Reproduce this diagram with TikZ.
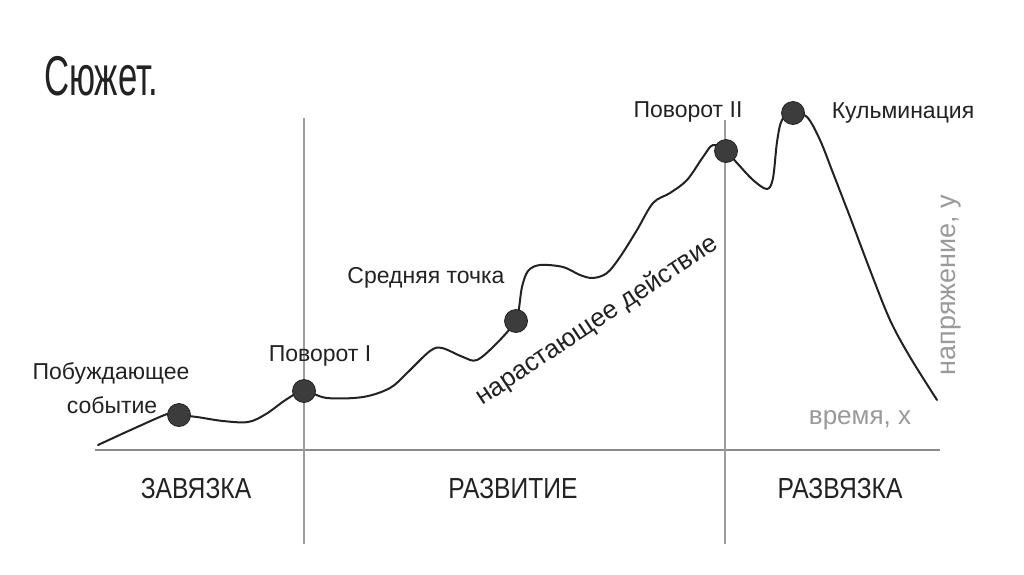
\documentclass[tikz,border=0pt]{standalone}
\usepackage{fontspec}
\setmainfont{Liberation Sans}
\newfontfamily\narrowfont[FakeStretch=0.85]{Liberation Sans}
\newfontfamily\titlefont[FakeStretch=0.62]{Liberation Sans}
\definecolor{ink}{HTML}{222222}
\definecolor{axisgray}{HTML}{8C8C8C}
\definecolor{labelgray}{HTML}{9A9A9A}
\definecolor{dotfill}{HTML}{3C3C3C}
\begin{document}
\begin{tikzpicture}[x=1pt,y=-1pt,
  lbl/.style={text=ink,inner sep=0pt,font=\fontsize{23}{26}\selectfont},
  glbl/.style={text=labelgray,inner sep=0pt,font=\fontsize{26}{28}\selectfont},
  part/.style={text=ink,inner sep=0pt,font=\narrowfont\fontsize{29}{30}\selectfont},
  axisline/.style={draw=axisgray,line width=2pt},
  divline/.style={draw=axisgray!85,line width=2pt},
  plotdot/.style={circle,fill=dotfill,draw=ink,line width=0.8pt,minimum size=23pt,inner sep=0pt},
  curve/.style={draw=ink,line width=2pt,line cap=round,line join=round}]
\useasboundingbox (0,0) rectangle (1024,574);
\fill[white] (0,0) rectangle (1024,574);
% title
\node[text=ink,inner sep=0pt,anchor=west,font=\titlefont\fontsize{56}{58}\selectfont] (title) at (44,76) {Сюжет.};
% axes
\coordinate (ax0) at (95,450);
\coordinate (ax1) at (940,450);
\draw[axisline] (ax0) -- (ax1);
\coordinate (v1t) at (304,118);
\coordinate (v1b) at (304,544);
\coordinate (v2t) at (725,120);
\coordinate (v2b) at (725,544);
\draw[divline] (v1t) -- (v1b);
\draw[divline] (v2t) -- (v2b);
% dot positions
\coordinate (p1) at (179,415);
\coordinate (p2) at (304,391);
\coordinate (p3) at (516,321);
\coordinate (p4) at (726,151);
\coordinate (p5) at (793,113);
% curve
\draw[curve] plot[smooth,tension=0.55] coordinates {
 (98,445) (135,428) (170,413) (p1) (197,417) (223,421) (248,422) (266,414)
 (287,399) (p2) (327,398) (363,397) (390,388) (407,373) (430,351) (442,348)
 (463,357) (477,360) (497,343) (p3) (519,308) (522,287) (528,271) (540,265)
 (563,267) (580,275) (593,278) (607,273) (620,257) (637,230) (653,203)
 (670,193) (687,180) (703,157) (713,145) (p4) (737,163) (753,180) (767,189)
 (773,178) (777,142) (782,120) (p5) (807,117) (820,140) (833,173) (850,217)
 (870,270) (890,320) (910,357) (937,400)};
% dots
\node[plotdot] (d1) at (p1) {};
\node[plotdot] (d2) at (p2) {};
\node[plotdot] (d3) at (p3) {};
\node[plotdot] (d4) at (p4) {};
\node[plotdot] (d5) at (p5) {};
% labels
\node[lbl] (l1a) at (111,373) {Побуждающее};
\node[lbl] (l1b) at (112,405) {событие};
\node[lbl] (l2) at (320,356) {Поворот I};
\node[lbl] (l3) at (426,278) {Средняя точка};
\node[lbl] (l4) at (688,112) {Поворот II};
\node[lbl] (l5) at (903,113) {Кульминация};
\node[text=ink,inner sep=0pt,font=\fontsize{26}{28}\selectfont,rotate=33.7] (l6) at (597,321) {нарастающее действие};
\node[glbl] (lx) at (860,420) {время, x};
\node[glbl,font=\fontsize{27}{28}\selectfont,rotate=90] (ly) at (951,285) {напряжение, у};
% parts
\node[part] (s1) at (196,489) {ЗАВЯЗКА};
\node[part] (s2) at (513,489) {РАЗВИТИЕ};
\node[part] (s3) at (840,489) {РАЗВЯЗКА};
\end{tikzpicture}
\end{document}
